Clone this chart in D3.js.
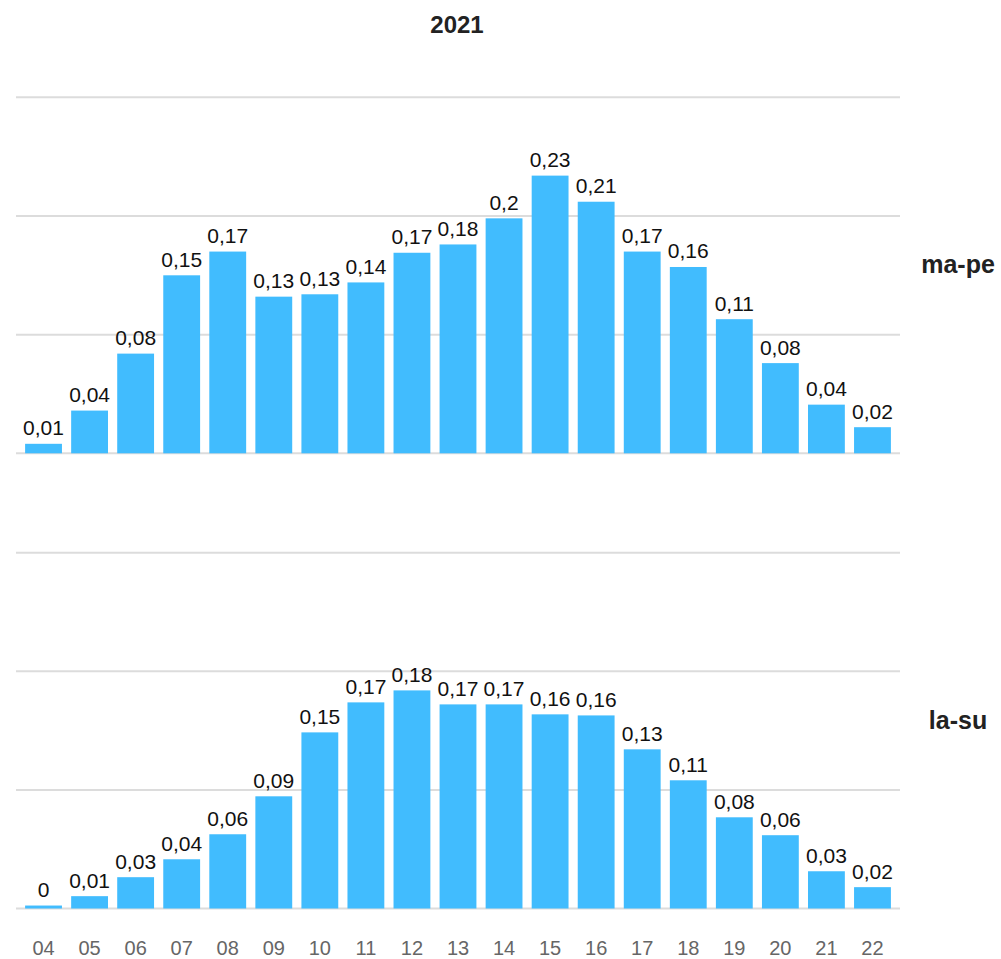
<!DOCTYPE html>
<html>
<head>
<meta charset="utf-8">
<script src="https://cdn.jsdelivr.net/npm/d3@7"></script>
<style>
  html, body { margin: 0; padding: 0; background: #fff; }
  svg text { font-family: "Liberation Sans", Arial, sans-serif; }
</style>
</head>
<body>
<svg id="chart" width="1001" height="959"></svg>
<script>
const title = "2021";
const hours = ["04","05","06","07","08","09","10","11","12","13","14","15","16","17","18","19","20","21","22"];
const seriesNames = ["ma-pe", "la-su"];
const maPe = [0.008, 0.036, 0.084, 0.150, 0.170, 0.132, 0.134, 0.144, 0.169, 0.176, 0.198, 0.234, 0.212, 0.170, 0.157, 0.113, 0.076, 0.041, 0.022];
const laSu = [0.0025, 0.0104, 0.0264, 0.0415, 0.0626, 0.0946, 0.1485, 0.1738, 0.1839, 0.1721, 0.1721, 0.1637, 0.1628, 0.1342, 0.1081, 0.0769, 0.0618, 0.0314, 0.018];
const yTicks = [0, 0.1, 0.2, 0.3];

const svg = d3.select("#chart");
const barColor = "#41bcfe";
const gridColor = "#dcdcdc";

const x = d3.scaleBand().domain(hours).range([20.5, 895.5]).paddingInner(0.2).paddingOuter(0.1);
const gridX0 = 16, gridX1 = 900;

const panels = [
  { name: seriesNames[0], values: maPe, base: 453.3, top: 97.3 },
  { name: seriesNames[1], values: laSu, base: 908.5, top: 552.7 }
];

const fmt = v => (+v.toFixed(2)).toString().replace(".", ",");

svg.append("text")
  .attr("x", 457).attr("y", 33)
  .attr("text-anchor", "middle")
  .style("font-size", "24px").style("font-weight", "bold").style("fill", "#222")
  .text(title);

panels.forEach(p => {
  const y = d3.scaleLinear().domain([0, 0.3]).range([p.base, p.top]);
  const g = svg.append("g");
  g.selectAll("line.grid").data(yTicks).enter().append("line")
    .attr("class", "grid")
    .attr("x1", gridX0).attr("x2", gridX1)
    .attr("y1", d => y(d)).attr("y2", d => y(d))
    .attr("stroke", gridColor).attr("stroke-width", 2);
  g.selectAll("rect").data(p.values).enter().append("rect")
    .attr("x", (d, i) => x(hours[i]))
    .attr("width", x.bandwidth())
    .attr("y", d => y(d))
    .attr("height", d => y(0) - y(d))
    .attr("fill", barColor);
  g.selectAll("text.val").data(p.values).enter().append("text")
    .attr("class", "val")
    .attr("x", (d, i) => x(hours[i]) + x.bandwidth() / 2)
    .attr("y", d => y(d) - 8.5)
    .attr("text-anchor", "middle")
    .style("font-size", "21px").style("fill", "#111")
    .text(d => fmt(d));
  svg.append("text")
    .attr("x", 958).attr("y", (p.base + p.top) / 2 - 2)
    .attr("text-anchor", "middle")
    .style("font-size", "25px").style("font-weight", "bold").style("fill", "#222")
    .text(p.name);
});

const xAxisG = svg.append("g").attr("transform", "translate(0,955)");
xAxisG.call(d3.axisBottom(x).tickSize(0).tickPadding(0))
  .call(g => g.select(".domain").remove());
xAxisG.selectAll("text")
  .attr("y", 0).attr("dy", 0)
  .style("font-size", "20px").style("fill", "#666")
  .style("font-family", "'Liberation Sans', Arial, sans-serif");
</script>
</body>
</html>
